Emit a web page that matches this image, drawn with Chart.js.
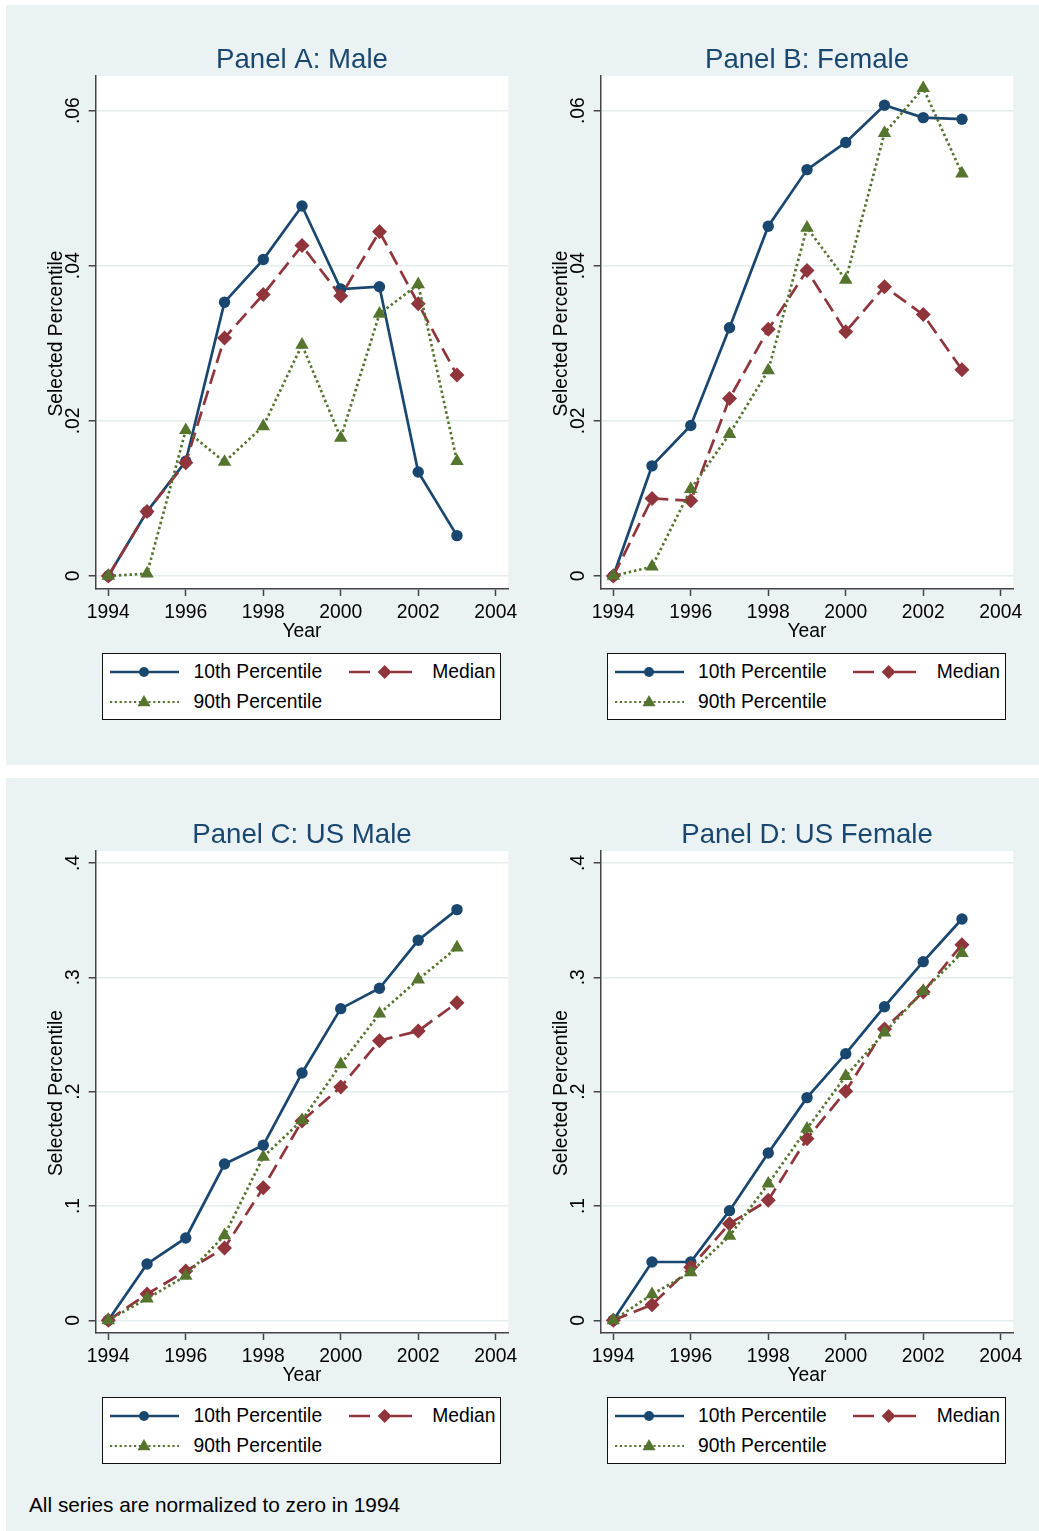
<!DOCTYPE html>
<html>
<head>
<meta charset="utf-8">
<script src="https://cdn.jsdelivr.net/npm/chart.js@4.4.1/dist/chart.umd.min.js"></script>
<style>
    body { margin: 0; background: #fff; font-family: "Liberation Sans", Arial, sans-serif; }
    .block { position: absolute; left: 6px; width: 1033px; background: #eaf2f3; }
    canvas { position: absolute; }
    .legend { position: absolute; width: 398.7px; height: 66.7px; box-sizing: border-box; border: 1.5px solid #111; background: #fff; }
    .legend svg { position: absolute; overflow: visible; }
    .legend span { position: absolute; font-size: 19.3px; line-height: 22px; color: #000; white-space: nowrap; }
    .note { position: absolute; left: 29px; top: 1492.5px; font-size: 20.8px; line-height: 24px; color: #000; white-space: nowrap; }
</style>
</head>
<body>
<div class="block" style="top:5px;height:760px"></div>
<div class="block" style="top:778px;height:753px"></div>

<canvas id="panelA" width="512" height="640" style="left:7px;top:5px"></canvas>
<canvas id="panelB" width="512" height="640" style="left:511.6px;top:5px"></canvas>
<canvas id="panelC" width="512" height="609" style="left:7px;top:779.7px"></canvas>
<canvas id="panelD" width="512" height="609" style="left:511.6px;top:779.7px"></canvas>

<div class="legend" style="left:102.3px;top:653.3px"></div>
<div class="legend" style="left:606.9px;top:653.3px"></div>
<div class="legend" style="left:102.3px;top:1397px"></div>
<div class="legend" style="left:606.9px;top:1397px"></div>

<div class="note">All series are normalized to zero in 1994</div>

<script>
// ===== DATA =====
const years = [1994, 1995, 1996, 1997, 1998, 1999, 2000, 2001, 2002, 2003];

// Panel A: Male
const maleP10 = [0, 0.0083, 0.0148, 0.0353, 0.0408, 0.0477, 0.0370, 0.0373, 0.0134, 0.0052];
const maleP50 = [0, 0.0083, 0.0146, 0.0307, 0.0363, 0.0426, 0.0361, 0.0444, 0.0351, 0.0259];
const maleP90 = [0, 0.0003, 0.0188, 0.0147, 0.0193, 0.0298, 0.0178, 0.0338, 0.0376, 0.0148];

// Panel B: Female
const femaleP10 = [0, 0.0142, 0.0194, 0.0320, 0.0451, 0.0524, 0.0559, 0.0607, 0.0591, 0.0589];
const femaleP50 = [0, 0.0100, 0.0097, 0.0229, 0.0318, 0.0394, 0.0315, 0.0373, 0.0337, 0.0266];
const femaleP90 = [0, 0.0012, 0.0112, 0.0183, 0.0265, 0.0449, 0.0382, 0.0571, 0.0629, 0.0519];

// Panel C: US Male
const usMaleP10 = [0, 0.0493, 0.0720, 0.1367, 0.1531, 0.2163, 0.2726, 0.2904, 0.3324, 0.3592];
const usMaleP50 = [0, 0.0230, 0.0431, 0.0633, 0.1160, 0.1743, 0.2041, 0.2446, 0.2531, 0.2778];
const usMaleP90 = [0, 0.0190, 0.0388, 0.0743, 0.1429, 0.1750, 0.2239, 0.2682, 0.2980, 0.3260];

// Panel D: US Female
const usFemaleP10 = [0, 0.0510, 0.0510, 0.0959, 0.1464, 0.1948, 0.2332, 0.2743, 0.3137, 0.3510];
const usFemaleP50 = [0, 0.0137, 0.0464, 0.0845, 0.1050, 0.1589, 0.2003, 0.2548, 0.2872, 0.3286];
const usFemaleP90 = [0, 0.0227, 0.0420, 0.0738, 0.1195, 0.1676, 0.2137, 0.2516, 0.2880, 0.3213];

// Tick values
const xTicks = [1994, 1996, 1998, 2000, 2002, 2004];
const yTicksSmall = [0, 0.02, 0.04, 0.06];
const yTicksLarge = [0, 0.1, 0.2, 0.3, 0.4];

const seriesNames = ['10th Percentile', 'Median', '90th Percentile'];

// Stata s2color
const NAVY = '#1a476f';
const MAROON = '#90353b';
const GREEN = '#55752f';
const AXIS = '#444';
const FONT = '"Liberation Sans", Arial, sans-serif';

// Stata-ish tick label: .02 instead of 0.02
function fmtTick(v) {
    if (v === 0) return '0';
    return String(v).replace(/^0/, '');
}

// White plot region
const plotBg = {
    id: 'plotBg',
    beforeDraw(chart) {
        const a = chart.chartArea;
        const ctx = chart.ctx;
        ctx.save();
        ctx.fillStyle = '#fff';
        ctx.fillRect(a.left, a.top, a.right - a.left, a.bottom - a.top);
        ctx.restore();
    }
};

// Title, axis titles and rotated y labels the Stata way
const stataText = {
    id: 'stataText',
    afterDraw(chart, args, opts) {
        const ctx = chart.ctx;
        const a = chart.chartArea;
        const x = chart.scales.x;
        const y = chart.scales.y;
        const cx = (a.left + a.right) / 2;
        ctx.save();
        ctx.fillStyle = '#000';
        ctx.font = '19.3px ' + FONT;
        ctx.textAlign = 'center';
        ctx.textBaseline = 'middle';

        x.ticks.forEach(t => {
            ctx.fillText(String(t.value), x.getPixelForValue(t.value), a.bottom + 23.5);
        });
        ctx.fillText('Year', cx, a.bottom + 42.5);

        y.ticks.forEach(t => {
            ctx.save();
            ctx.translate(a.left - 22.5, y.getPixelForValue(t.value));
            ctx.rotate(-Math.PI / 2);
            ctx.fillText(fmtTick(t.value), 0, 0);
            ctx.restore();
        });

        ctx.save();
        ctx.translate(a.left - 39, (a.top + a.bottom) / 2 + 1);
        ctx.rotate(-Math.PI / 2);
        ctx.fillText('Selected Percentile', 0, 0);
        ctx.restore();

        ctx.font = '27.6px ' + FONT;
        ctx.fillStyle = NAVY;
        ctx.fillText(opts.title, cx, a.top - 16);
        ctx.restore();
    }
};

function makeDataset(label, values, color, style, order) {
    const ds = {
        label: label,
        data: years.map((yr, i) => ({ x: yr, y: values[i] })),
        borderColor: color,
        backgroundColor: color,
        pointBackgroundColor: color,
        pointBorderWidth: 0,
        borderWidth: 2.7,
        tension: 0,
        fill: false,
        order: order
    };
    if (style === 'circle') {
        ds.pointStyle = 'circle';
        ds.pointRadius = 5.7;
    } else if (style === 'diamond') {
        ds.pointStyle = 'rectRot';
        ds.pointRadius = 7.5;
        ds.borderDash = [15, 7];
    } else {
        ds.pointStyle = 'triangle';
        ds.pointRadius = 7.8;
        ds.borderDash = [2.5, 2.8];
    }
    return ds;
}

function makePanel(id, title, p10, p50, p90, yMin, yMax, yTicks) {
    const ctx = document.getElementById(id);
    if (!ctx) return;

    new Chart(ctx, {
        type: 'line',
        data: {
            datasets: [
                makeDataset(seriesNames[0], p10, NAVY, 'circle', 3),
                makeDataset(seriesNames[1], p50, MAROON, 'diamond', 2),
                makeDataset(seriesNames[2], p90, GREEN, 'triangle', 1)
            ]
        },
        options: {
            responsive: false,
            animation: false,
            devicePixelRatio: 1,
            layout: { padding: { left: 28.7, right: 10.7, top: 71, bottom: 16 } },
            plugins: {
                legend: { display: false },
                tooltip: { enabled: false },
                stataText: { title: title }
            },
            scales: {
                x: {
                    type: 'linear',
                    min: 1993.675,
                    max: 2004.325,
                    afterBuildTicks: s => { s.ticks = xTicks.map(v => ({ value: v })); },
                    afterFit: s => { s.height = 40; },
                    ticks: { display: false },
                    grid: { drawOnChartArea: false, drawTicks: true, tickLength: 7, tickColor: AXIS, tickWidth: 1.5 },
                    border: { display: true, color: AXIS, width: 1.5 }
                },
                y: {
                    type: 'linear',
                    min: yMin,
                    max: yMax,
                    afterBuildTicks: s => { s.ticks = yTicks.map(v => ({ value: v })); },
                    afterFit: s => { s.width = 60; },
                    ticks: { display: false },
                    grid: { color: '#e4ecee', lineWidth: 1.5, drawTicks: true, tickLength: 7, tickColor: AXIS, tickWidth: 1.5 },
                    border: { display: true, color: AXIS, width: 1.5 }
                }
            }
        },
        plugins: [plotBg, stataText]
    });
}

// Legend boxes (HTML, Stata layout: 2 columns)
function sampleSvg(kind) {
    const ns = 'http://www.w3.org/2000/svg';
    const svg = document.createElementNS(ns, 'svg');
    svg.setAttribute('width', '70');
    svg.setAttribute('height', '20');
    let inner = '';
    if (kind === 'circle') {
        inner = '<line x1="0" y1="10" x2="69" y2="10" stroke="' + NAVY + '" stroke-width="2.5"/>' +
                '<circle cx="34" cy="10" r="5" fill="' + NAVY + '"/>';
    } else if (kind === 'diamond') {
        inner = '<line x1="0" y1="10" x2="21" y2="10" stroke="' + MAROON + '" stroke-width="2.5"/>' +
                '<line x1="42" y1="10" x2="63" y2="10" stroke="' + MAROON + '" stroke-width="2.5"/>' +
                '<polygon points="35.7,3 42.7,10 35.7,17 28.7,10" fill="' + MAROON + '"/>';
    } else {
        inner = '<line x1="0" y1="10" x2="69" y2="10" stroke="' + GREEN + '" stroke-width="2.2" stroke-dasharray="2.2 2.6"/>' +
                '<polygon points="34,3 40.5,14.2 27.5,14.2" fill="' + GREEN + '"/>';
    }
    svg.innerHTML = inner;
    return svg;
}

function buildLegends() {
    document.querySelectorAll('.legend').forEach(box => {
        const items = [
            { kind: 'circle', text: seriesNames[0], sx: 7.2, tx: 90.2, cy: 17.7 },
            { kind: 'diamond', text: seriesNames[1], sx: 245.5, tx: 328.9, cy: 17.7 },
            { kind: 'triangle', text: seriesNames[2], sx: 7.2, tx: 90.2, cy: 47.8 }
        ];
        items.forEach(it => {
            const svg = sampleSvg(it.kind);
            svg.style.left = it.sx + 'px';
            svg.style.top = (it.cy - 10) + 'px';
            box.appendChild(svg);
            const span = document.createElement('span');
            span.textContent = it.text;
            span.style.left = it.tx + 'px';
            span.style.top = (it.cy - 10.8) + 'px';
            box.appendChild(span);
        });
    });
}

document.addEventListener('DOMContentLoaded', function() {
    makePanel('panelA', 'Panel A: Male', maleP10, maleP50, maleP90, -0.00168, 0.06447, yTicksSmall);
    makePanel('panelB', 'Panel B: Female', femaleP10, femaleP50, femaleP90, -0.00168, 0.06447, yTicksSmall);
    makePanel('panelC', 'Panel C: US Male', usMaleP10, usMaleP50, usMaleP90, -0.0111, 0.4105, yTicksLarge);
    makePanel('panelD', 'Panel D: US Female', usFemaleP10, usFemaleP50, usFemaleP90, -0.0111, 0.4105, yTicksLarge);
    buildLegends();
});
</script>
</body>
</html>
